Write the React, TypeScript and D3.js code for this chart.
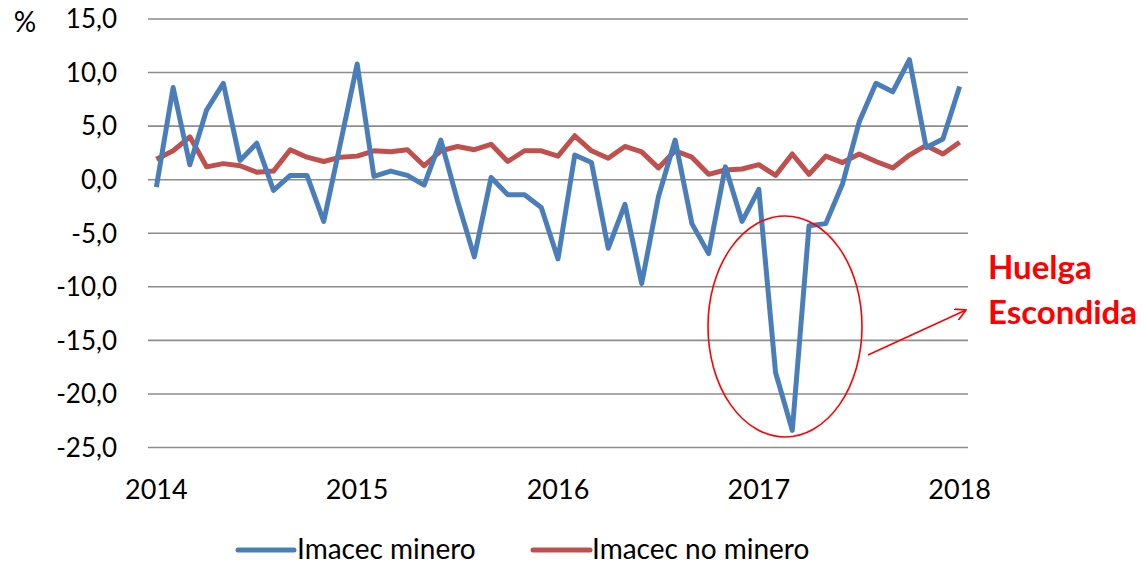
import React from "react";
import * as d3 from "d3";

const years = ["2014", "2015", "2016", "2017", "2018"];
const yTicks = [15, 10, 5, 0, -5, -10, -15, -20, -25];

// monthly, Jan 2014 .. Jan 2018
const minero = [
  -0.7, 8.6, 1.4, 6.5, 9.0, 1.8, 3.4, -1.0, 0.4, 0.4, -3.9, 3.4,
  10.8, 0.3, 0.8, 0.4, -0.5, 3.7, -2.0, -7.2, 0.2, -1.4, -1.4, -2.6,
  -7.4, 2.3, 1.6, -6.4, -2.3, -9.7, -1.6, 3.7, -4.1, -6.9, 1.2, -3.9,
  -0.9, -18.0, -23.4, -4.3, -4.1, -0.4, 5.4, 9.0, 8.2, 11.2, 3.0, 3.8,
  8.7,
];
const noMinero = [
  1.9, 2.7, 4.0, 1.2, 1.5, 1.3, 0.7, 0.8, 2.8, 2.1, 1.7, 2.1,
  2.2, 2.7, 2.6, 2.8, 1.3, 2.7, 3.1, 2.8, 3.3, 1.7, 2.7, 2.7,
  2.2, 4.1, 2.7, 2.0, 3.1, 2.6, 1.1, 2.7, 2.1, 0.5, 0.9, 1.0,
  1.4, 0.4, 2.4, 0.5, 2.2, 1.6, 2.4, 1.7, 1.1, 2.3, 3.2, 2.4,
  3.5,
];

const font = "Lato, 'Open Sans', sans-serif";
const blue = "#4a7ebb";
const red = "#c0504d";

export default function App() {
  const left = 148;
  const right = 968;
  const x = d3
    .scaleBand<number>()
    .domain(d3.range(minero.length))
    .range([left, right]);
  const cx = (i: number) => (x(i) as number) + x.bandwidth() / 2;
  const y = d3.scaleLinear().domain([-25, 15]).range([447.5, 19]);

  const line = d3
    .line<number>()
    .x((_, i) => cx(i))
    .y((d) => y(d));

  return (
    <svg
      width={1146}
      height={564}
      style={{ position: "absolute", left: 0, top: 0, background: "#fff" }}
      fontFamily={font}
    >
      <defs>
        <marker
          id="arr"
          viewBox="0 0 12 12"
          refX="11"
          refY="6"
          markerWidth="12"
          markerHeight="12"
          markerUnits="userSpaceOnUse"
          orient="auto"
        >
          <polyline points="0,0 11,6 0,12" fill="none" stroke="#ff0000" strokeWidth="1.6" />
        </marker>
      </defs>

      {yTicks.map((t) => (
        <g key={t}>
          <line x1={left} x2={right} y1={y(t)} y2={y(t)} stroke="#8c8c8c" strokeWidth={1.6} />
          <text x={117} y={y(t)} dy="0.36em" textAnchor="end" fontSize={26} fill="#000">
            {d3.format(".1f")(t).replace(".", ",").replace("−", "-")}
          </text>
        </g>
      ))}
      <text x={25} y={22} dy="0.36em" textAnchor="middle" fontSize={28}>
        %
      </text>

      {years.map((yr, k) => (
        <text key={yr} x={cx(k * 12)} y={489} dy="0.36em" textAnchor="middle" fontSize={27}>
          {yr}
        </text>
      ))}

      <path d={line(noMinero) ?? ""} fill="none" stroke={red} strokeWidth={5} strokeLinejoin="round" />
      <path d={line(minero) ?? ""} fill="none" stroke={blue} strokeWidth={5} strokeLinejoin="round" />

      <ellipse cx={785} cy={326.5} rx={77} ry={110.5} fill="none" stroke="#ff0000" strokeWidth={1.6} />
      <line x1={868} y1={355} x2={966} y2={310} stroke="#ff0000" strokeWidth={1.6} markerEnd="url(#arr)" />
      <text x={988} y={279} fontSize={33} fontWeight="bold" fill="#ff0000">
        Huelga
      </text>
      <text x={988} y={324} fontSize={33} fontWeight="bold" fill="#ff0000">
        Escondida
      </text>

      <g>
        <line x1={238} x2={294} y1={550} y2={550} stroke={blue} strokeWidth={5} strokeLinecap="round" />
        <text x={297} y={549} dy="0.34em" fontSize={28}>
          Imacec minero
        </text>
        <line x1={533} x2={590} y1={550} y2={550} stroke={red} strokeWidth={5} strokeLinecap="round" />
        <text x={592} y={549} dy="0.34em" fontSize={28}>
          Imacec no minero
        </text>
      </g>
    </svg>
  );
}
